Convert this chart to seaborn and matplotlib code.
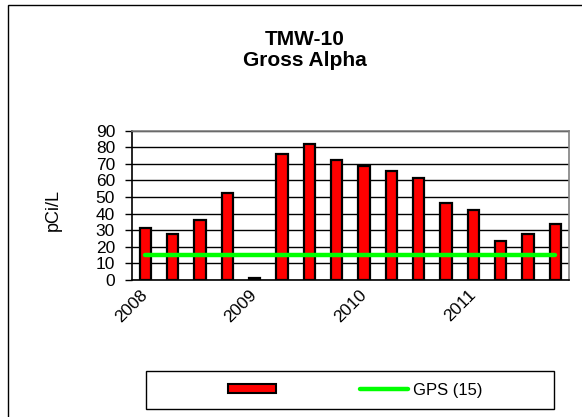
import numpy as np
import pandas as pd
import matplotlib
matplotlib.use("Agg")
import matplotlib.pyplot as plt
from matplotlib.patches import Rectangle, Patch
from matplotlib.lines import Line2D
import seaborn as sns

# quarterly sampling results, TMW-10 gross alpha (pCi/L)
quarters = ["2008 Q1", "2008 Q2", "2008 Q3", "2008 Q4",
            "2009 Q1", "2009 Q2", "2009 Q3", "2009 Q4",
            "2010 Q1", "2010 Q2", "2010 Q3", "2010 Q4",
            "2011 Q1", "2011 Q2", "2011 Q3", "2011 Q4"]
gross_alpha = [31.5, 28, 36, 52.5, 1, 76, 82, 72.5,
               68.5, 65.5, 61.5, 46.5, 42, 23.5, 28, 34]
gps_limit = 15
year_labels = ["2008", "2009", "2010", "2011"]
year_positions = [0, 4, 8, 12]
y_ticks = [0, 10, 20, 30, 40, 50, 60, 70, 80, 90]

sns.set_theme(style="white")
plt.rcParams['font.family'] = ['Liberation Sans', 'DejaVu Sans']
plt.rcParams['text.color'] = 'black'
plt.rcParams['axes.labelcolor'] = 'black'
plt.rcParams['xtick.color'] = 'black'
plt.rcParams['ytick.color'] = 'black'

W, H = 582, 417
fig = plt.figure(figsize=(W / 100, H / 100), dpi=100)
ax = fig.add_axes([131.7 / W, 1 - 280 / H, (569 - 131.7) / W, (280 - 130.7) / H])

df = pd.DataFrame({"quarter": quarters, "value": gross_alpha})
sns.barplot(data=df, x="quarter", y="value", color="#FF0000", saturation=1,
            edgecolor="black", linewidth=1.6, width=0.42, ax=ax)

gps_df = pd.DataFrame({"pos": np.arange(len(quarters)), "gps": [gps_limit] * len(quarters)})
sns.lineplot(data=gps_df, x="pos", y="gps", color="#00FF00", linewidth=3.2,
             solid_capstyle="round", ax=ax, zorder=4)

ax.set_xlim(-0.5, len(quarters) - 0.5)
ax.set_ylim(0, 90)
ax.set_yticks(y_ticks)
ax.yaxis.grid(True, color="black", linewidth=1)
ax.set_axisbelow(True)

# major ticks at category boundaries, year labels as minor ticks
ax.set_xticks(np.arange(-0.5, len(quarters), 1.0))
ax.set_xticklabels([])
ax.set_xticks(year_positions, minor=True)
ax.set_xticklabels(year_labels, minor=True, rotation=45, ha="right", va="center",
                   rotation_mode="anchor", fontsize=12.5)
ax.tick_params(axis="x", which="major", direction="inout", length=10, width=1, color="black")
ax.tick_params(axis="x", which="minor", length=0, pad=9)
ax.tick_params(axis="y", direction="out", length=5, width=1, color="black",
               left=True, labelsize=12.5, pad=7)

ax.set_xlabel("")
ax.set_ylabel("pCi/L", fontsize=13)
ax.yaxis.set_label_coords(-0.159, 0.469)

for side in ["left", "bottom"]:
    ax.spines[side].set_color("black")
    ax.spines[side].set_linewidth(1.2)
for side in ["top", "right"]:
    ax.spines[side].set_color("#808080")
    ax.spines[side].set_linewidth(1.2)

fig.text(305 / W, 1 - 45 / H, "TMW-10", ha="center", va="baseline",
         fontsize=15, fontweight="bold")
fig.text(305 / W, 1 - 66.5 / H, "Gross Alpha", ha="center", va="baseline",
         fontsize=15, fontweight="bold")

# outer chart frame
fig.patches.append(Rectangle((8 / W, -0.2), 1.2, 1.2 - 5 / H, transform=fig.transFigure,
                             fill=False, edgecolor="black", linewidth=1))

# legend box
fig.patches.append(Rectangle((146 / W, 1 - 409 / H), 408 / W, 38 / H,
                             transform=fig.transFigure, fill=False,
                             edgecolor="black", linewidth=1))
handles = [Patch(facecolor="#FF0000", edgecolor="black", linewidth=1.5),
           Line2D([0], [0], color="#00FF00", linewidth=3.2, solid_capstyle="round")]
fig.legend(handles, ["", "GPS (15)"], loc="center", bbox_to_anchor=(355 / W, 1 - 390 / H),
           ncol=2, frameon=False, fontsize=12, handlelength=2.87, handleheight=0.5,
           handletextpad=0.3, columnspacing=4.73, borderpad=0)

fig.savefig("out.png", dpi=100, facecolor="white")
